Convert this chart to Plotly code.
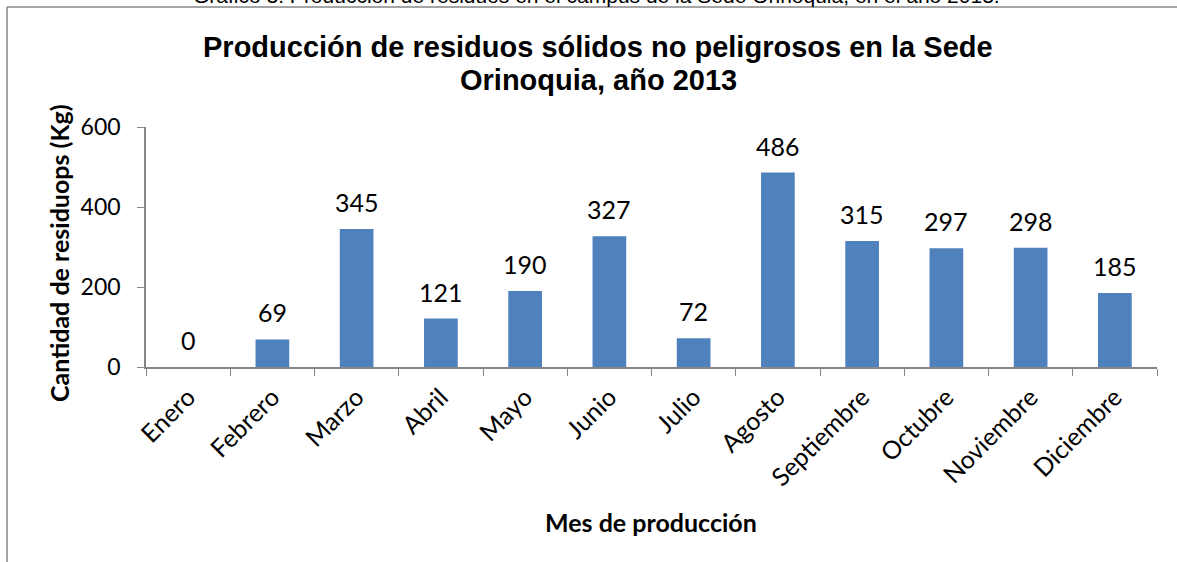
import plotly.graph_objects as go

# Datos: producción mensual de residuos (Kg), año 2013
meses = ["Enero", "Febrero", "Marzo", "Abril", "Mayo", "Junio", "Julio",
         "Agosto", "Septiembre", "Octubre", "Noviembre", "Diciembre"]
residuos_kg = [0, 69, 345, 121, 190, 327, 72, 486, 315, 297, 298, 185]
y_ticks = [0, 200, 400, 600]

titulo_l1 = "Producción de residuos sólidos no peligrosos en la Sede"
titulo_l2 = "Orinoquia, año 2013"
leyenda_grafico = "Gráfico 3. Producción de residuos en el campus de la Sede Orinoquia, en el año 2013."

AXIS_GRAY = "#868686"
BAR_BLUE = "#4F81BD"
BODY_FONT = "Lato"
TITLE_FONT = "Liberation Sans"

# plot area in pixels (left, top, right, bottom)
L, T, R, B = 146, 127, 1157, 367
W, H = 1177, 562


def px_to_paper(px, py):
    return (px - L) / (R - L), (B - py) / (B - T)


def add_text(text, px, py, size, family=BODY_FONT, angle=0, yanchor="middle"):
    x, y = px_to_paper(px, py)
    fig.add_annotation(text=text, xref="paper", yref="paper", x=x, y=y,
                       xanchor="center", yanchor=yanchor, showarrow=False, textangle=angle,
                       font=dict(family=family, size=size, color="#000000"))


fig = go.Figure()

fig.add_trace(go.Bar(
    x=meses,
    y=residuos_kg,
    marker=dict(color=BAR_BLUE, line=dict(width=0)),
    width=0.4,
    hoverinfo="x+y",
))

# etiquetas de datos sobre cada barra
for mes, valor in zip(meses, residuos_kg):
    fig.add_annotation(x=mes, y=valor, text=str(valor), showarrow=False,
                       xanchor="center", yanchor="bottom", yshift=10,
                       font=dict(family=BODY_FONT, size=25, color="#000000"))

fig.update_layout(
    width=W, height=H,
    margin=dict(l=L, r=W - R, t=T, b=H - B),
    plot_bgcolor="white",
    paper_bgcolor="white",
    showlegend=False,
    font=dict(family=BODY_FONT, color="#000000"),
)

fig.update_xaxes(
    type="category",
    automargin=False,
    showline=True, linecolor=AXIS_GRAY, linewidth=1.5,
    ticks="outside", tickson="boundaries", ticklen=7, tickcolor=AXIS_GRAY,
    tickangle=-45,
    ticklabelstandoff=4,
    tickfont=dict(family=BODY_FONT, size=25),
    showgrid=False,
)

fig.update_yaxes(
    range=[0, 600],
    automargin=False,
    tickvals=y_ticks,
    showline=True, linecolor=AXIS_GRAY, linewidth=1.5,
    ticks="outside", ticklen=7, tickcolor=AXIS_GRAY,
    ticklabelstandoff=12,
    tickfont=dict(family=BODY_FONT, size=23),
    showgrid=False, zeroline=False,
)

# título (dos líneas) y títulos de ejes
add_text("<b>" + titulo_l1 + "</b>", 598, 47, 29, family=TITLE_FONT)
add_text("<b>" + titulo_l2 + "</b>", 598, 80, 29, family=TITLE_FONT)
add_text("<b>Mes de producción</b>", 651, 522, 25)
add_text("<b>Cantidad de residuops (Kg)</b>", 59, 253, 25, angle=-90)

# marco del gráfico (solo bordes superior e izquierdo visibles)
x0, y0 = px_to_paper(7, 7)
x1, _ = px_to_paper(W + 5, 7)
_, y1 = px_to_paper(7, H + 5)
fig.add_shape(type="line", xref="paper", yref="paper", x0=x0, y0=y0, x1=x1, y1=y0,
              line=dict(color=AXIS_GRAY, width=1.5))
fig.add_shape(type="line", xref="paper", yref="paper", x0=x0, y0=y0, x1=x0, y1=y1,
              line=dict(color=AXIS_GRAY, width=1.5))

# leyenda del gráfico, cortada en el borde superior
add_text(leyenda_grafico, 596, 9, 21, family=TITLE_FONT, yanchor="bottom")

# quitar el margen por defecto del body para que la figura empiece en (0, 0)
fig.write_html("out.html", config={"displayModeBar": False},
               post_script="document.body.style.margin='0';")
